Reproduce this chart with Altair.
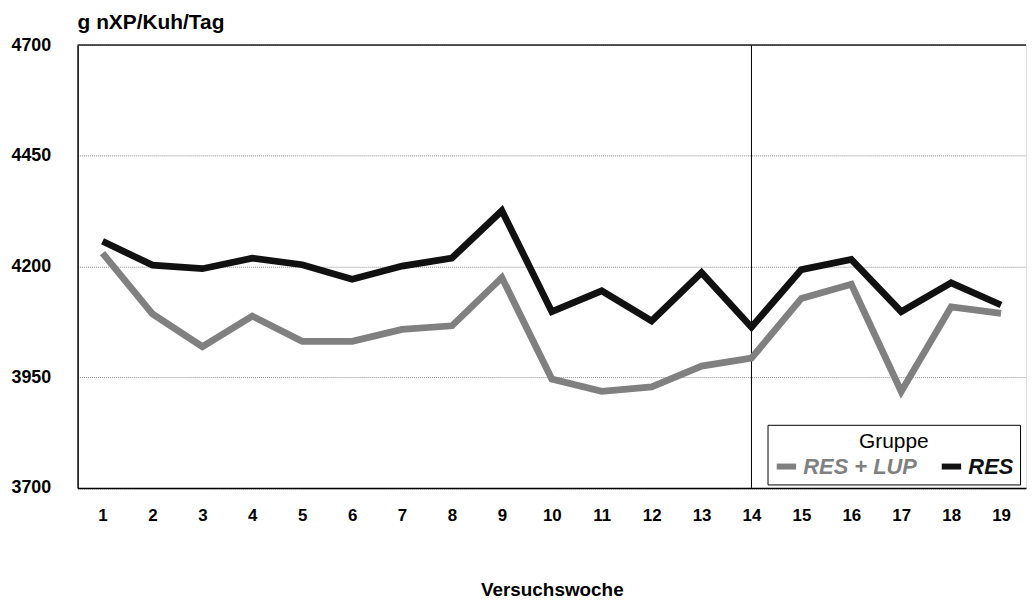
import altair as alt
import pandas as pd

weeks = list(range(1, 20))
res = [4257, 4203, 4195, 4219, 4204, 4171, 4201, 4219, 4326, 4098,
       4145, 4077, 4186, 4063, 4193, 4216, 4098, 4163, 4113]
res_lup = [4230, 4093, 4019, 4088, 4031, 4031, 4058, 4066, 4175, 3946,
           3918, 3928, 3975, 3993, 4128, 4160, 3918, 4109, 4094]
groups = ["RES + LUP", "RES"]
y_ticks = [3700, 3950, 4200, 4450, 4700]
marker_week = [14]
top_value = [4700]

rows = []
for w, v in zip(weeks, res_lup):
    rows.append({"Woche": w, "Wert": v, "Gruppe": groups[0]})
for w, v in zip(weeks, res):
    rows.append({"Woche": w, "Wert": v, "Gruppe": groups[1]})
df = pd.DataFrame(rows)

FONT = "Liberation Sans"

x_scale = alt.Scale(domain=[0.5, 19.5], nice=False, zero=False)
x_enc = alt.X("Woche:Q", scale=x_scale,
              axis=alt.Axis(title="Versuchswoche", values=weeks, format="d", labelAngle=0,
                            ticks=False, tickSize=0, labelFlush=False, labelOverlap=False,
                            labelPadding=20, labelFontSize=17, labelFontWeight="bold",
                            titleFontSize=19, titleFontWeight="bold", titlePadding=57,
                            domainColor="black", domainWidth=1.5, grid=False,
                            labelFont=FONT, titleFont=FONT, labelColor="black", titleColor="black"))
y_scale = alt.Scale(domain=[3700, 4700], nice=False, zero=False)

lines = alt.Chart(df).mark_line(strokeWidth=6.8, strokeJoin="miter", strokeCap="butt").encode(
    x=x_enc,
    y=alt.Y("Wert:Q", scale=y_scale,
            axis=alt.Axis(title=None, values=y_ticks, format="d", ticks=False, tickSize=0,
                          labelPadding=27, labelFontSize=18, labelFontWeight="bold", labelFont=FONT,
                          labelColor="black", domainColor="black", domainWidth=1.5,
                          grid=True, gridColor="#8a8a8a", gridDash=[1, 1], gridWidth=1)),
    color=alt.Color("Gruppe:N", sort=groups,
                    scale=alt.Scale(domain=groups, range=["#808080", "#111111"]),
                    legend=alt.Legend(title="Gruppe", orient="none", direction="horizontal",
                                      legendX=694, legendY=382,
                                      titleFont=FONT, titleFontSize=21, titleFontWeight="normal",
                                      titleColor="black", titleAnchor="middle", titlePadding=2,
                                      labelFont=FONT, labelFontSize=22, labelFontWeight="bold",
                                      labelFontStyle="italic",
                                      labelColor={"expr": "datum.label == 'RES' ? '#111111' : '#808080'"},
                                      symbolType="stroke", symbolStrokeWidth=6, symbolSize=380,
                                      columnPadding=12, labelOffset=4,
                                      strokeColor="black", fillColor="white", padding=6,
                                      cornerRadius=0)),
    order=alt.Order("Gruppe:N", sort="descending"),
)

rule14 = alt.Chart(pd.DataFrame({"Woche": marker_week})).mark_rule(color="black", strokeWidth=1).encode(
    x=alt.X("Woche:Q", scale=x_scale),
)

top_rule = alt.Chart(pd.DataFrame({"Wert": top_value})).mark_rule(color="#222", strokeWidth=1.5).encode(
    y=alt.Y("Wert:Q", scale=y_scale),
)

chart = alt.layer(rule14, lines, top_rule).properties(
    width=954, height=445.5,
    title=alt.Title("g nXP/Kuh/Tag", anchor="start", font=FONT, fontSize=21, fontWeight="bold",
                    color="black", offset=3, frame="group"),
    autosize=alt.AutoSizeParams(type="none"),
    padding={"left": 70, "top": 35.5, "right": 2, "bottom": 116},
).configure_view(stroke=None).configure(background="white")

chart.save("out.html", embed_options={"renderer": "svg", "actions": False})
